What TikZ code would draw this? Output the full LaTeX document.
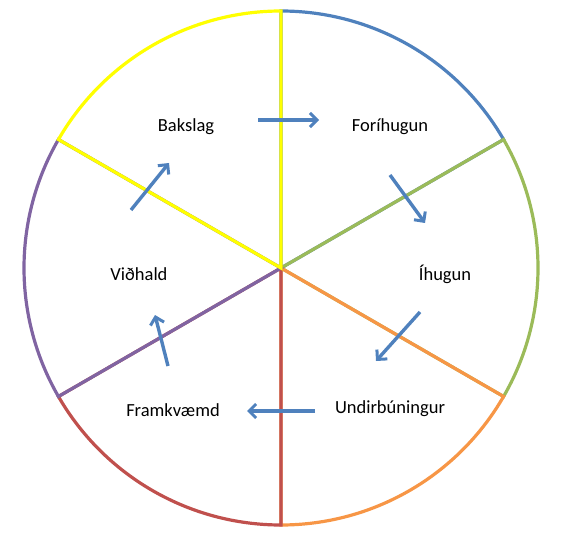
\documentclass[tikz,border=0pt]{standalone}
\usepackage{fontspec}
\setmainfont{Carlito}
\usetikzlibrary{arrows.meta}
\definecolor{cblue}{HTML}{4F81BD}
\definecolor{cgreen}{HTML}{9BBB59}
\definecolor{corange}{HTML}{F79646}
\definecolor{cred}{HTML}{C0504D}
\definecolor{cpurple}{HTML}{8064A2}
\definecolor{cyellow}{HTML}{FFFF00}
\begin{document}
\begin{tikzpicture}[x=1pt,y=1pt,
  sector/.style={line width=3.2pt,line join=miter},
  lbl/.style={font=\fontsize{18.5}{22}\selectfont,inner sep=0pt},
  flow/.style={draw=cblue,line width=3.4pt,-{Straight Barb[length=7pt,width=14pt,line width=3pt]}}]
\useasboundingbox (0,0) rectangle (564,-534);
\coordinate (c) at (281,-268);
\def\R{257}
\draw[sector,cblue]    (c) -- ++(90:\R)  arc[start angle=90,end angle=30,radius=\R] -- cycle;
\draw[sector,cgreen]   (c) -- ++(30:\R)  arc[start angle=30,end angle=-30,radius=\R] -- cycle;
\draw[sector,corange]  (c) -- ++(-30:\R) arc[start angle=-30,end angle=-90,radius=\R] -- cycle;
\draw[sector,cred]     (c) -- ++(-90:\R) arc[start angle=-90,end angle=-150,radius=\R] -- cycle;
\draw[sector,cpurple]  (c) -- ++(210:\R) arc[start angle=210,end angle=150,radius=\R] -- cycle;
\draw[sector,cyellow]  (c) -- ++(150:\R) arc[start angle=150,end angle=90,radius=\R] -- cycle;
\node[lbl] (bak) at (186,-127) {Bakslag};
\node[lbl] (for) at (390,-127) {Foríhugun};
\node[lbl] (ihu) at (445,-274) {Íhugun};
\node[lbl] (und) at (390,-409) {Undirbúningur};
\node[lbl] (fra) at (173,-410) {Framkvæmd};
\node[lbl] (vid) at (139,-274) {Viðhald};
\coordinate (a1s) at (258,-120); \coordinate (a1e) at (319,-120);
\coordinate (a2s) at (390,-175); \coordinate (a2e) at (425,-223);
\coordinate (a3s) at (420,-312); \coordinate (a3e) at (376,-361);
\coordinate (a4s) at (315,-411); \coordinate (a4e) at (247,-411);
\coordinate (a5s) at (168,-366); \coordinate (a5e) at (155,-315);
\coordinate (a6s) at (131,-210); \coordinate (a6e) at (169,-163);
\draw[flow] (a1s) -- (a1e);
\draw[flow] (a2s) -- (a2e);
\draw[flow] (a3s) -- (a3e);
\draw[flow] (a4s) -- (a4e);
\draw[flow] (a5s) -- (a5e);
\draw[flow] (a6s) -- (a6e);
\end{tikzpicture}
\end{document}
